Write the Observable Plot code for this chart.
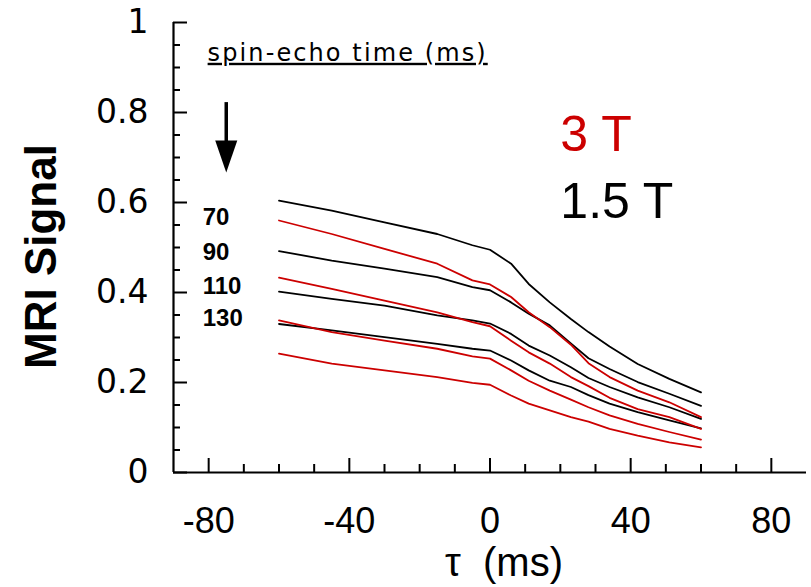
<!DOCTYPE html>
<html>
<head>
<meta charset="utf-8">
<script src="https://cdn.jsdelivr.net/npm/d3@7"></script>
<script src="https://cdn.jsdelivr.net/npm/@observablehq/plot@0.6"></script>
<style>
  html, body { margin: 0; padding: 0; background: #fff; }
</style>
</head>
<body>
<div id="chart"></div>
<script>
// ---- data ----
const tau = [-60, -45, -30, -15, -5, 0, 6, 11, 17, 23, 28, 34, 42, 51, 60];

const fields = ["3 T", "1.5 T"];
const fieldColors = ["#cc0000", "#000000"];
const echoTimes = [70, 90, 110, 130];

const signal15T_70  = [0.604, 0.582, 0.556, 0.530, 0.505, 0.495, 0.464, 0.419, 0.378, 0.341, 0.312, 0.280, 0.241, 0.208, 0.178];
const signal15T_90  = [0.492, 0.471, 0.453, 0.434, 0.412, 0.405, 0.378, 0.353, 0.327, 0.287, 0.254, 0.230, 0.201, 0.175, 0.148];
const signal15T_110 = [0.402, 0.386, 0.371, 0.349, 0.338, 0.331, 0.308, 0.282, 0.260, 0.234, 0.210, 0.190, 0.167, 0.145, 0.119];
const signal15T_130 = [0.330, 0.316, 0.301, 0.286, 0.275, 0.271, 0.249, 0.227, 0.204, 0.190, 0.172, 0.153, 0.134, 0.116, 0.098];

const signal3T_70  = [0.560, 0.530, 0.497, 0.464, 0.427, 0.418, 0.390, 0.356, 0.323, 0.284, 0.243, 0.212, 0.182, 0.156, 0.123];
const signal3T_90  = [0.433, 0.408, 0.382, 0.356, 0.334, 0.325, 0.293, 0.267, 0.242, 0.212, 0.192, 0.166, 0.141, 0.123, 0.097];
const signal3T_110 = [0.338, 0.312, 0.293, 0.275, 0.258, 0.253, 0.227, 0.204, 0.182, 0.162, 0.145, 0.127, 0.108, 0.090, 0.073];
const signal3T_130 = [0.264, 0.242, 0.227, 0.212, 0.199, 0.195, 0.171, 0.153, 0.138, 0.123, 0.113, 0.097, 0.082, 0.067, 0.056];

const xMajorTicks = [-80, -40, 0, 40, 80];
const xMinorTicks = [-70, -60, -50, -30, -20, -10, 10, 20, 30, 50, 60, 70];
const yMajorTicks = [0, 0.2, 0.4, 0.6, 0.8, 1];
const yMinorTicks = [0.05, 0.1, 0.15, 0.25, 0.3, 0.35, 0.45, 0.5, 0.55, 0.65, 0.7, 0.75, 0.85, 0.9, 0.95];

// annotation anchors (data coordinates)
const echoLabelTau = [-81.7, -81.7, -81.7, -81.7];
const echoLabelY = [0.566, 0.490, 0.414, 0.342];
const legendTau = [20, 20];
const legendY = [0.751, 0.602];
const headerText = ["spin-echo time (ms)"];
const headerTau = [-80.3];
const headerY = [0.932];
const arrowTau = [-75];
const arrowTop = [0.822];
const arrowShaftEnd = [0.725];
const arrowHeadY = [0.702];

// ---- table ----
const seriesDefs = [
  {field: "1.5 T", te: 70,  values: signal15T_70},
  {field: "1.5 T", te: 90,  values: signal15T_90},
  {field: "1.5 T", te: 110, values: signal15T_110},
  {field: "1.5 T", te: 130, values: signal15T_130},
  {field: "3 T",   te: 70,  values: signal3T_70},
  {field: "3 T",   te: 90,  values: signal3T_90},
  {field: "3 T",   te: 110, values: signal3T_110},
  {field: "3 T",   te: 130, values: signal3T_130}
];
const rows = seriesDefs.flatMap(s => s.values.map((v, i) => ({
  tau: tau[i], signal: v, field: s.field, series: s.field + " " + s.te
})));

const echoLabels = echoTimes.map((te, i) => ({x: echoLabelTau[i], y: echoLabelY[i], text: String(te)}));
const legendLabels = fields.map((f, i) => ({x: legendTau[i], y: legendY[i], text: f, color: fieldColors[i]}));
const header = headerText.map((t, i) => ({x: headerTau[i], y: headerY[i], text: t}));
const arrow = arrowTau.map((x, i) => ({x, y1: arrowTop[i], y2: arrowShaftEnd[i], yh: arrowHeadY[i]}));

// tall filled triangle pointing down
const downHead = {
  draw(context, size) {
    const r = Math.sqrt(size / Math.PI);
    context.moveTo(-0.69 * r, -r);
    context.lineTo(0.69 * r, -r);
    context.lineTo(0, r);
    context.closePath();
  }
};

const chart = Plot.plot({
  width: 811,
  height: 587,
  marginLeft: 173,
  marginRight: 5,
  marginTop: 22,
  marginBottom: 115,
  x: {domain: [-90, 90], label: null},
  y: {domain: [0, 1], label: null},
  color: {domain: fields, range: fieldColors},
  style: {fontFamily: "Liberation Sans, Arial, sans-serif", background: "#fff", color: "#000"},
  marks: [
    // inward ticks
    Plot.axisX({ticks: xMajorTicks, tickSize: -14, strokeWidth: 2, tickFormat: () => "", label: null}),
    Plot.axisX({ticks: xMinorTicks, tickSize: -8, strokeWidth: 2, tickFormat: () => "", label: null}),
    Plot.axisX({ticks: xMajorTicks, tickSize: 0, tickPadding: 35, fontSize: 36, tickFormat: d => String(d), label: null}),
    Plot.axisY({ticks: yMajorTicks, tickSize: -14, strokeWidth: 2, tickFormat: () => "", label: null}),
    Plot.axisY({ticks: yMinorTicks, tickSize: -7, strokeWidth: 2, tickFormat: () => "", label: null}),
    Plot.axisY({ticks: yMajorTicks, tickSize: 0, tickPadding: 25, fontSize: 33, fontFamily: "DejaVu Sans", tickFormat: d => String(d), label: null}),
    Plot.ruleX([-90], {strokeWidth: 2.2}),
    Plot.ruleY([0], {strokeWidth: 2.2}),
    // data lines
    Plot.line(rows, {x: "tau", y: "signal", z: "series", stroke: "field", strokeWidth: 1.8}),
    // annotations
    Plot.text(header, {x: "x", y: "y", text: "text", textAnchor: "start", fontSize: 24, fontFamily: "DejaVu Sans"}),
    Plot.ruleX(arrow, {x: "x", y1: "y1", y2: "y2", strokeWidth: 3.5}),
    Plot.dot(arrow, {x: "x", y: "yh", r: 16, symbol: downHead, fill: "#000"}),
    Plot.text(echoLabels, {x: "x", y: "y", text: "text", textAnchor: "start", fontSize: 24, fontWeight: "bold"}),
    Plot.text(legendLabels, {x: "x", y: "y", text: "text", textAnchor: "start", fontSize: 50, fill: "color"}),
    Plot.text(["MRI Signal"], {frameAnchor: "left", text: d => d, textAnchor: "middle", lineAnchor: "middle", rotate: -90, dx: -132, dy: 9, fontSize: 44, fontWeight: "bold"}),
    Plot.text(["\u03c4\u00a0\u00a0(ms)"], {frameAnchor: "bottom", text: d => d, textAnchor: "middle", lineAnchor: "middle", dx: 14, dy: 91, fontSize: 40})
  ]
});

document.getElementById("chart").appendChild(chart);

// underline + spacing for the header
d3.select(chart).selectAll("text")
  .filter(function() { return this.textContent === headerText[0]; })
  .style("text-decoration", "underline")
  .style("letter-spacing", "2.1px");
</script>
</body>
</html>
